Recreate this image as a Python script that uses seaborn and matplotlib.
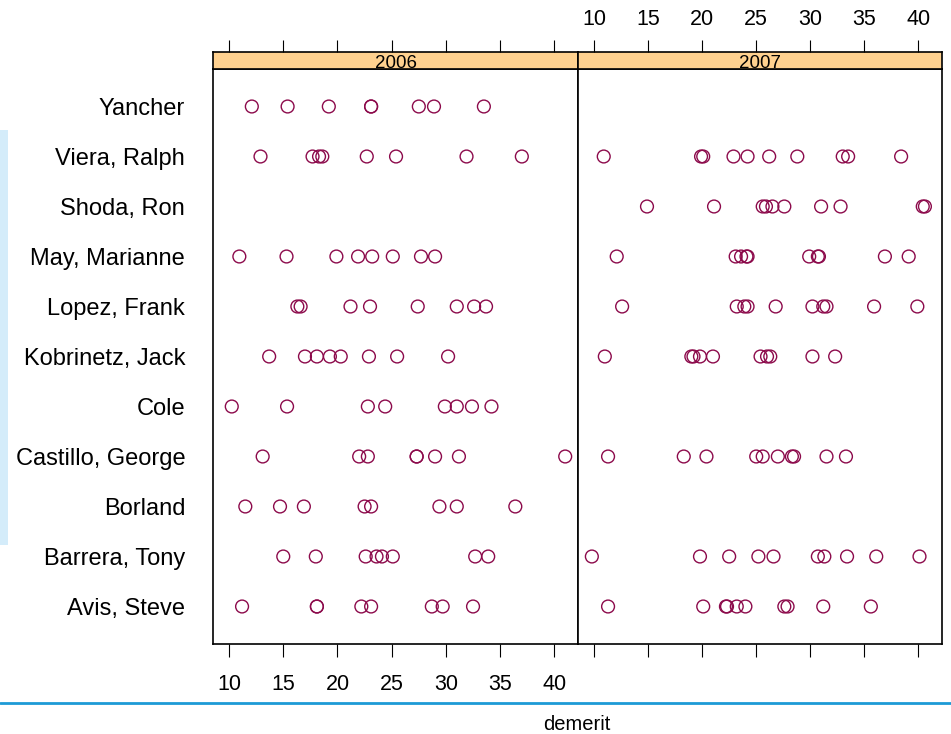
import numpy as np
import pandas as pd
import matplotlib
matplotlib.use("Agg")
import matplotlib.pyplot as plt
import seaborn as sns
from matplotlib.patches import Rectangle
from matplotlib.lines import Line2D
from matplotlib.transforms import ScaledTranslation

# Inspectors, listed bottom to top
inspectors = ["Avis, Steve", "Barrera, Tony", "Borland", "Castillo, George", "Cole",
              "Kobrinetz, Jack", "Lopez, Frank", "May, Marianne", "Shoda, Ron",
              "Viera, Ralph", "Yancher"]
years = ["2006", "2007"]
x_ticks = [10, 15, 20, 25, 30, 35, 40]

# Demerit scores per inspector and year
yancher_2006 = [12.1, 15.4, 19.2, 23.1, 23.1, 27.5, 28.9, 33.5]
viera_2006 = [12.9, 17.7, 18.3, 18.6, 22.7, 25.4, 31.9, 37.0]
may_2006 = [10.95, 15.3, 19.9, 21.9, 23.2, 25.1, 27.7, 29.0]
lopez_2006 = [16.3, 16.6, 21.2, 23.0, 27.4, 31.0, 32.6, 33.7]
kobrinetz_2006 = [13.7, 17.0, 18.1, 19.3, 20.3, 22.9, 25.5, 30.2]
cole_2006 = [10.25, 15.35, 22.8, 24.4, 29.9, 31.0, 32.4, 34.2]
castillo_2006 = [13.1, 22.0, 22.8, 27.3, 27.3, 29.0, 31.2, 41.0]
borland_2006 = [11.5, 14.7, 16.9, 22.5, 23.1, 29.4, 31.0, 36.4]
barrera_2006 = [15.0, 18.0, 22.6, 23.6, 24.1, 25.1, 32.7, 33.9]
avis_2006 = [11.2, 18.1, 18.1, 22.2, 23.1, 28.7, 29.7, 32.5]

viera_2007 = [10.9, 19.9, 20.1, 22.9, 24.2, 26.2, 28.8, 33.0, 33.5, 38.4]
shoda_2007 = [14.9, 21.1, 25.6, 25.9, 26.5, 27.6, 31.0, 32.8, 40.4, 40.6]
may_2007 = [12.1, 23.1, 23.6, 24.1, 24.2, 29.9, 30.7, 30.8, 36.9, 39.1]
lopez_2007 = [12.6, 23.2, 23.9, 24.2, 26.8, 30.2, 31.2, 31.5, 35.9, 39.9]
kobrinetz_2007 = [11.0, 19.0, 19.2, 19.8, 21.0, 25.4, 26.0, 26.3, 30.2, 32.3]
castillo_2007 = [11.3, 18.3, 20.4, 25.0, 25.6, 27.0, 28.3, 28.5, 31.5, 33.3]
barrera_2007 = [9.8, 19.8, 22.5, 25.2, 26.6, 30.7, 31.3, 33.4, 36.1, 40.1]
avis_2007 = [11.3, 20.1, 22.2, 22.3, 23.2, 24.0, 27.6, 27.9, 31.2, 35.6]

series = [
    ("Yancher", "2006", yancher_2006), ("Viera, Ralph", "2006", viera_2006),
    ("May, Marianne", "2006", may_2006), ("Lopez, Frank", "2006", lopez_2006),
    ("Kobrinetz, Jack", "2006", kobrinetz_2006), ("Cole", "2006", cole_2006),
    ("Castillo, George", "2006", castillo_2006), ("Borland", "2006", borland_2006),
    ("Barrera, Tony", "2006", barrera_2006), ("Avis, Steve", "2006", avis_2006),
    ("Viera, Ralph", "2007", viera_2007), ("Shoda, Ron", "2007", shoda_2007),
    ("May, Marianne", "2007", may_2007), ("Lopez, Frank", "2007", lopez_2007),
    ("Kobrinetz, Jack", "2007", kobrinetz_2007), ("Castillo, George", "2007", castillo_2007),
    ("Barrera, Tony", "2007", barrera_2007), ("Avis, Steve", "2007", avis_2007),
]
rows = [(name, yr, v) for name, yr, vals in series for v in vals]
df = pd.DataFrame(rows, columns=["inspector", "year", "demerit"])
df["row"] = df["inspector"].map({n: i + 1 for i, n in enumerate(inspectors)})

sns.set_theme(style="white")
plt.rcParams["font.family"] = ["Liberation Sans", "DejaVu Sans"]
plt.rcParams["text.color"] = "black"
plt.rcParams["axes.labelcolor"] = "black"
plt.rcParams["xtick.color"] = "black"
plt.rcParams["ytick.color"] = "black"

W, H = 951, 734
fig = plt.figure(figsize=(W / 100, H / 100), dpi=100)

POINT = "#8C0A4B"
STRIP = "#FFD18F"
XLIM = (8.52, 42.18)
YLIM = (0.25, 11.75)
PANEL_TOP, PANEL_BOT = 69, 644
STRIP_TOP = 52
panels = [(213, 578), (578, 942)]


def fbox(x0, x1, ytop, ybot):
    return [x0 / W, 1 - ybot / H, (x1 - x0) / W, (ybot - ytop) / H]


for i, (yr, (x0, x1)) in enumerate(zip(years, panels)):
    ax = fig.add_axes(fbox(x0, x1, PANEL_TOP, PANEL_BOT))
    sub = df[df["year"] == yr]
    sns.scatterplot(data=sub, x="demerit", y="row", ax=ax, marker="o", s=85,
                    facecolor="none", edgecolor=POINT, linewidth=1.0, legend=False)
    ax.collections[-1].set_facecolor("none")
    ax.set_xlim(*XLIM)
    ax.set_ylim(*YLIM)
    ax.set_xlabel("")
    ax.set_ylabel("")
    ax.set_xticks(x_ticks)
    ax.set_yticks(range(1, len(inspectors) + 1))
    if i == 0:
        ax.set_yticklabels(inspectors, fontsize=17, color="black")
        ax.set_xticklabels([str(t) for t in x_ticks], fontsize=15.5, color="black")
        shift = ScaledTranslation(0, -3 / 100, fig.dpi_scale_trans)
        for lab in ax.get_yticklabels():
            lab.set_transform(lab.get_transform() + shift)
    else:
        ax.set_yticklabels([])
        ax.set_xticklabels([])
    ax.tick_params(axis="y", length=0, pad=20)
    ax.tick_params(axis="x", direction="out", length=9.4, width=0.8, color="black",
                   pad=12, bottom=True, labelcolor="black")
    for sp in ax.spines.values():
        sp.set_visible(True)
        sp.set_color("black")
        sp.set_linewidth(1.2)
    ax.grid(False)

    sx = fig.add_axes(fbox(x0, x1, STRIP_TOP, PANEL_TOP))
    sx.set_facecolor(STRIP)
    sx.set_xlim(*XLIM)
    sx.set_ylim(0, 1)
    sx.set_yticks([])
    sx.xaxis.tick_top()
    sx.set_xticks(x_ticks)
    if i == 1:
        sx.set_xticklabels([str(t) for t in x_ticks], fontsize=15.5, color="black")
    else:
        sx.set_xticklabels([])
    sx.tick_params(axis="x", direction="out", length=8.6, width=0.8, color="black",
                   pad=7, top=True, bottom=False, labelcolor="black")
    for sp in sx.spines.values():
        sp.set_visible(True)
        sp.set_color("black")
        sp.set_linewidth(1.2)
    sx.text(0.5, 0.3, yr, transform=sx.transAxes, ha="center", va="center",
            fontsize=13.5, color="black")

# Axis title below the separator rule
fig.text(577 / W, 1 - 725 / H, "demerit", ha="center", va="center", fontsize=14.5,
         color="black")

fig.add_artist(Line2D([0, 1], [1 - 702.5 / H] * 2, transform=fig.transFigure,
                      color="#1D9AD6", linewidth=2.0))
fig.add_artist(Rectangle((0, 1 - 545 / H), 8 / W, 415 / H, transform=fig.transFigure,
                         facecolor="#D4ECFA", edgecolor="none"))

fig.savefig("out.png", dpi=100)
